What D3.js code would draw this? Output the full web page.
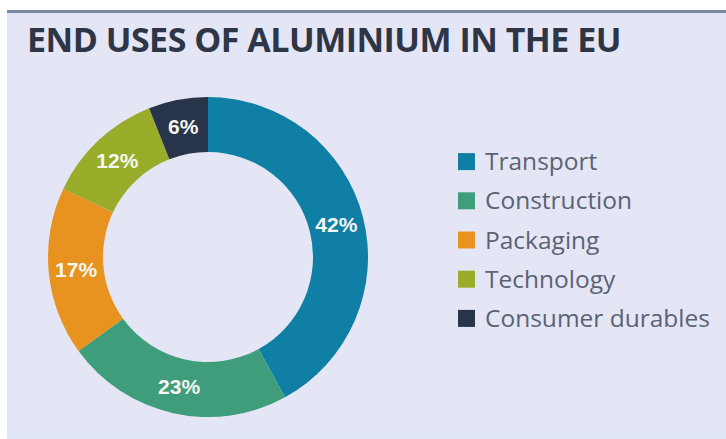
<!DOCTYPE html>
<html>
<head>
<meta charset="utf-8">
<script src="https://cdn.jsdelivr.net/npm/d3@7"></script>
<style>
  html, body { margin: 0; padding: 0; background: #ffffff; }
  svg { display: block; }
</style>
</head>
<body>
<svg id="chart" width="726" height="439"></svg>
<script>
// End uses of aluminium in the EU (share of total, %)
const categories = ["Transport", "Construction", "Packaging", "Technology", "Consumer durables"];
const shares = [42, 23, 17, 12, 6];
const colors = ["#0f7fa5", "#3f9d7b", "#e8921f", "#99ad2b", "#28344a"];
const title = "END USES OF ALUMINIUM IN THE EU";

const W = 726, H = 439;
const svg = d3.select("#chart");

// card background with a slate rule along the top
svg.append("rect").attr("x", 7).attr("y", 10).attr("width", W - 7).attr("height", 423)
  .attr("fill", "#e4e6f6");
svg.append("rect").attr("x", 7).attr("y", 10).attr("width", W - 7).attr("height", 3)
  .attr("fill", "#7d88a2");
svg.append("rect").attr("x", 7).attr("y", 432).attr("width", W - 7).attr("height", 7)
  .attr("fill", "#dfe8f4");

svg.append("text")
  .attr("x", 27).attr("y", 52)
  .attr("font-family", "'Open Sans', sans-serif")
  .attr("font-weight", 700)
  .attr("font-size", 34)
  .attr("letter-spacing", -0.5)
  .attr("fill", "#2e3546")
  .text(title);

// donut
const cx = 208, cy = 257, outerR = 160, innerR = 105;
const data = categories.map((c, i) => ({ name: c, value: shares[i], color: colors[i] }));
const pie = d3.pie().value(d => d.value).sort(null);
const arc = d3.arc().innerRadius(innerR).outerRadius(outerR);
const arcs = pie(data);

const g = svg.append("g").attr("transform", `translate(${cx},${cy})`);
g.selectAll("path.slice")
  .data(arcs)
  .join("path")
  .attr("class", "slice")
  .attr("d", arc)
  .attr("fill", d => d.data.color);

g.selectAll("text.pct")
  .data(arcs)
  .join("text")
  .attr("class", "pct")
  .attr("transform", d => `translate(${arc.centroid(d)})`)
  .attr("text-anchor", "middle")
  .attr("dy", "0.36em")
  .attr("font-family", "'Liberation Sans Narrow', 'Liberation Sans', sans-serif")
  .attr("font-weight", 700)
  .attr("font-size", 21)
  .attr("fill", "#f4f7f2")
  .text(d => d.data.value + "%");

// legend
const legendY = d3.scaleBand().domain(categories).range([142, 338]);
const lg = svg.append("g").selectAll("g")
  .data(data)
  .join("g")
  .attr("transform", d => `translate(458,${legendY(d.name) + legendY.bandwidth() / 2})`);
lg.append("rect").attr("x", 0).attr("y", -8.5).attr("width", 17).attr("height", 17)
  .attr("fill", d => d.color);
lg.append("text")
  .attr("x", 27).attr("dy", "0.35em")
  .attr("font-family", "'Open Sans', sans-serif")
  .attr("font-size", 24.5)
  .attr("fill", "#5b6273")
  .text(d => d.name);
</script>
</body>
</html>
